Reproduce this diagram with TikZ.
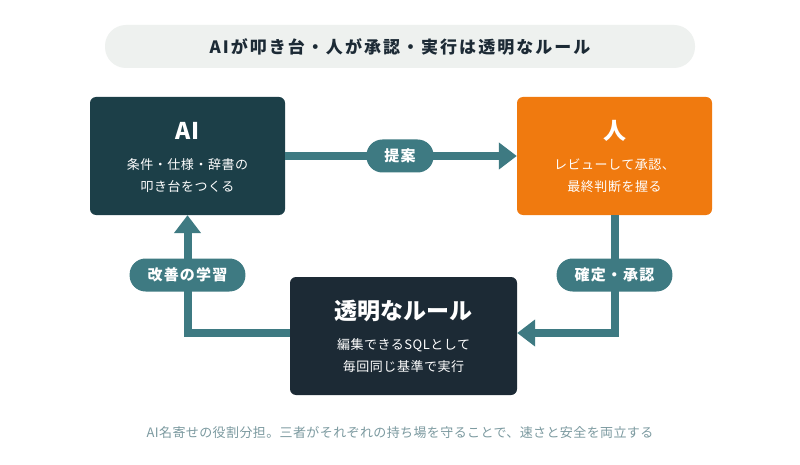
\documentclass[tikz,border=0pt]{standalone}
\usepackage{fontspec}
\setmainfont{Noto Sans CJK JP}
\usetikzlibrary{arrows.meta}
\definecolor{teal}{HTML}{3E7A82}
\definecolor{aibox}{HTML}{1C3F48}
\definecolor{orng}{HTML}{F07A0F}
\definecolor{navy}{HTML}{1C2A35}
\definecolor{pill}{HTML}{EEF1EF}
\definecolor{cap}{HTML}{7C9AA0}
\begin{document}
\begin{tikzpicture}[x=1pt,y=-1pt,
  box/.style={rounded corners=6pt,minimum width=195pt,minimum height=118pt,inner sep=0},
  lbl/.style={rounded corners=16pt,fill=teal,text=white,font=\bfseries\fontsize{15}{18}\selectfont\addfontfeature{LetterSpace=8},minimum height=33pt,inner xsep=18pt},
  conn/.style={draw=teal,line width=8pt,-{Triangle[length=18pt,width=26pt]}},
  sub/.style={text=white,font=\fontsize{13}{22}\selectfont\addfontfeature{LetterSpace=4},align=center},
  ttl/.style={text=white,font=\bfseries\fontsize{23}{27}\selectfont}]
\useasboundingbox (0,0) rectangle (800,465);
\fill[white] (0,0) rectangle (800,465);
\node[fill=pill,rounded corners=21pt,minimum width=590pt,minimum height=43pt,font=\bfseries\fontsize{17}{20}\selectfont\addfontfeature{LetterSpace=12},text=navy] (title) at (400,46.5) {AIが叩き台・人が承認・実行は透明なルール};
\node[box,fill=aibox] (ai) at (187.5,156) {};
\node[box,fill=orng] (hu) at (614.5,156) {};
\node[box,fill=navy,minimum width=227pt] (ru) at (403.5,336) {};
\node[ttl] (ait) at (187.5,131) {AI};
\node[sub] (ais) at (187.5,176) {条件・仕様・辞書の\\叩き台をつくる};
\node[ttl] (hut) at (614.5,131) {人};
\node[sub] (hus) at (614.5,176) {レビューして承認、\\最終判断を握る};
\node[ttl] (rut) at (403.5,311) {透明なルール};
\node[sub] (rus) at (403.5,356) {編集できるSQLとして\\毎回同じ基準で実行};
\coordinate (c1) at (614.5,333);
\coordinate (c2) at (187.5,333);
\draw[conn] (ai.east |- 0,156) -- (hu.west |- 0,156);
\draw[conn] (hu.south) -- (c1) -- (ru.east |- c1);
\draw[conn] (ru.west |- c2) -- (c2) -- (ai.south);
\node[lbl] (l1) at (400,156) {提案};
\node[lbl] (l2) at (614.5,275) {確定・承認};
\node[lbl] (l3) at (187.5,275) {改善の学習};
\node[text=cap,font=\fontsize{13}{15}\selectfont\addfontfeature{LetterSpace=3}] (cp) at (400,433) {AI名寄せの役割分担。三者がそれぞれの持ち場を守ることで、速さと安全を両立する};
\end{tikzpicture}
\end{document}
